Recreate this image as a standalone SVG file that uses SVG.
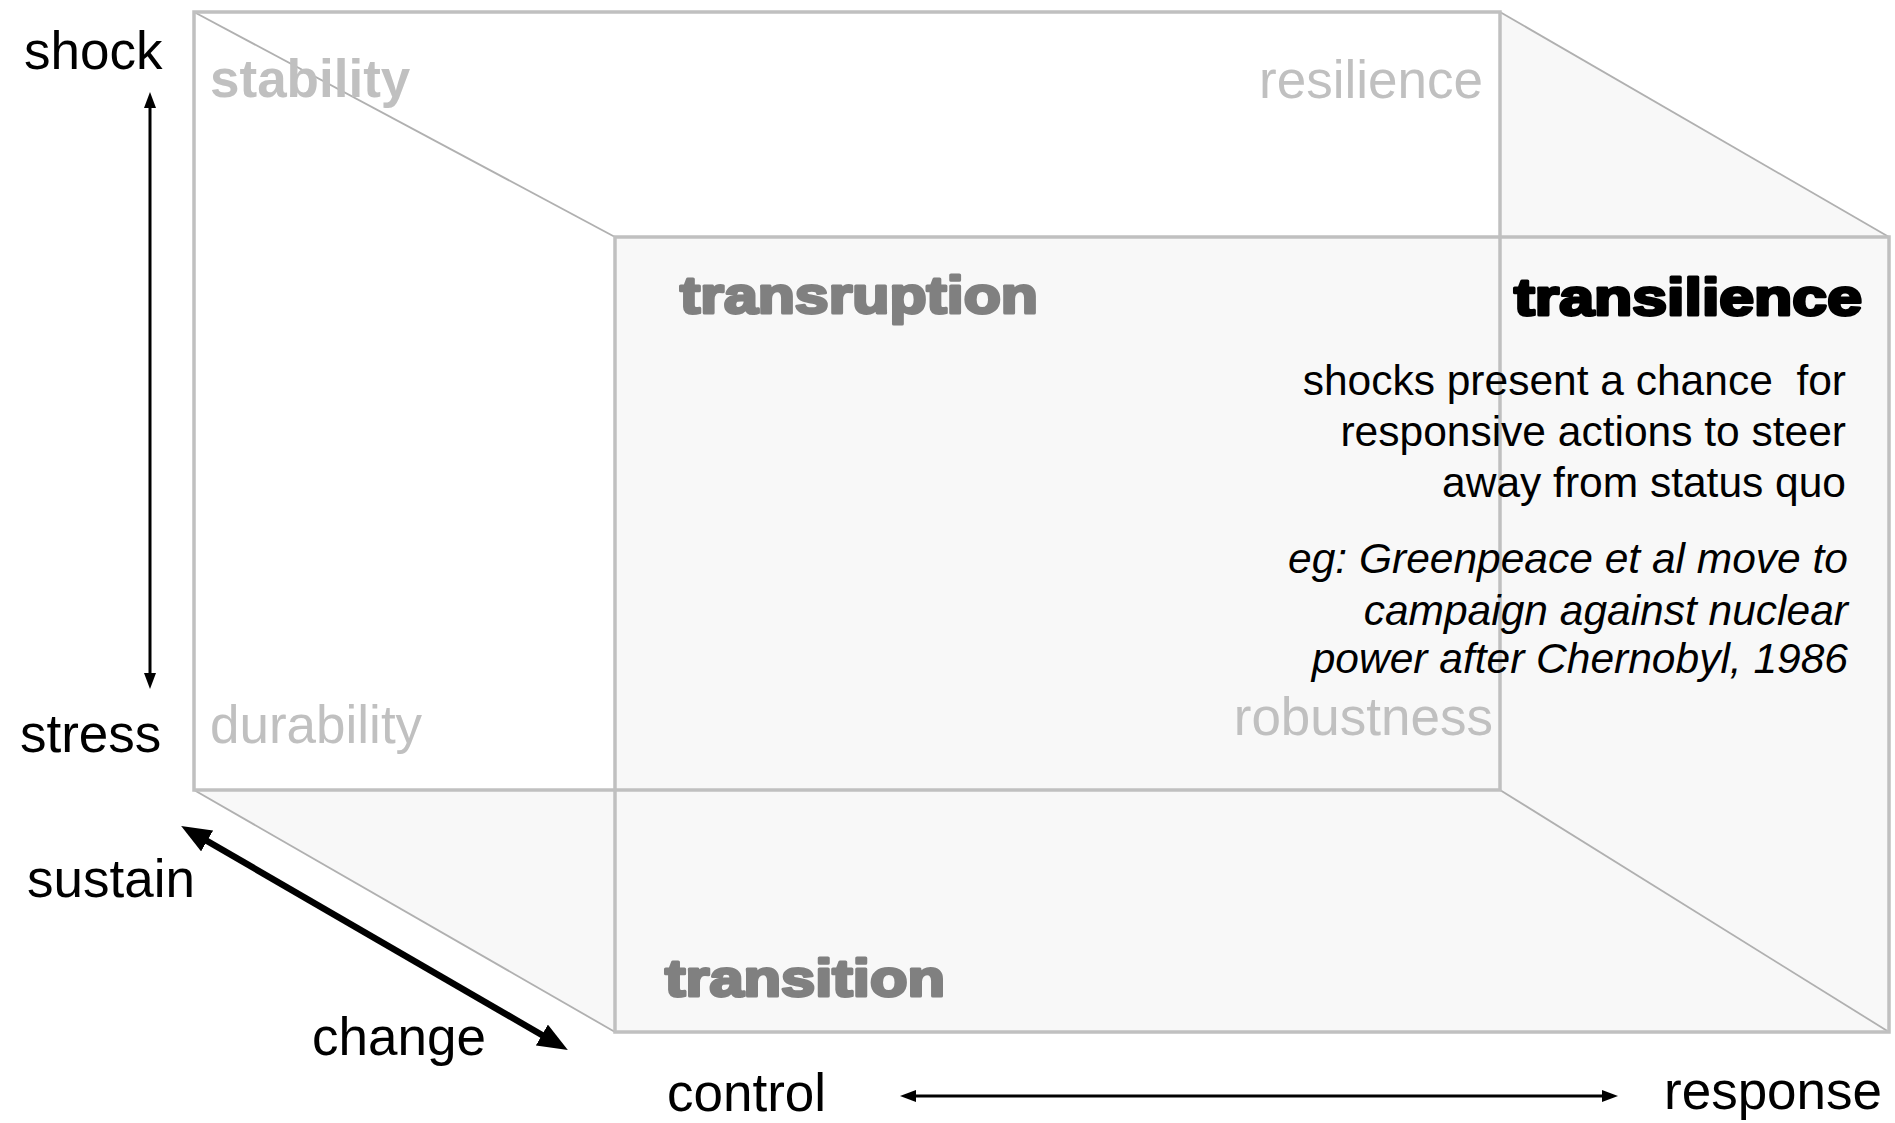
<svg xmlns="http://www.w3.org/2000/svg" width="1895" height="1123" viewBox="0 0 1895 1123">
<style>
.lbl{font-family:"Liberation Sans",Arial,sans-serif;font-size:53px;fill:#000}
.soft{font-family:"Liberation Sans",Arial,sans-serif;font-size:53px;fill:#c0c0c0}
.heavy{font-family:"Liberation Sans",Arial,sans-serif;font-size:52px;font-weight:bold;stroke-width:3;stroke-linejoin:round}
.body{font-family:"Liberation Sans",Arial,sans-serif;font-size:42.5px;fill:#000;text-anchor:end}
.ital{font-style:italic}
.edge{fill:none;stroke:#c0c0c0;stroke-width:3.5}
.diag{fill:none;stroke:#b0b0b0;stroke-width:1.8}
.face{fill:#f8f8f8;stroke:none}
.thin{stroke:#000;stroke-width:3;fill:none}
.thick{stroke:#000;stroke-width:6.5;fill:none}
</style>
<defs>
<marker id="ah" markerUnits="userSpaceOnUse" markerWidth="16" markerHeight="12" refX="8" refY="6" orient="auto-start-reverse" viewBox="0 0 16 12">
<path d="M0,0 L16,6 L0,12 z" fill="#000"/>
</marker>
<marker id="ahb" markerUnits="userSpaceOnUse" markerWidth="30" markerHeight="24" refX="14" refY="12" orient="auto-start-reverse" viewBox="0 0 30 24">
<path d="M0,0 L30,12 L0,24 z" fill="#000"/>
</marker>
</defs>
<rect width="1895" height="1123" fill="#fff"/>
<g id="cube">
<rect id="back-face" x="194" y="12" width="1306" height="778" fill="#fff"/>
<polygon id="right-face" class="face" points="1500,12 1889,237 1889,1032 1500,790"/>
<polygon id="bottom-face" class="face" points="194,790 1500,790 1889,1032 615,1032"/>
<rect id="front-face" class="face" x="615" y="237" width="1274" height="795"/>
<line class="diag" x1="194" y1="12" x2="615" y2="237"/>
<line class="diag" x1="1500" y1="12" x2="1889" y2="237"/>
<line class="diag" x1="1500" y1="790" x2="1889" y2="1032"/>
<line class="diag" x1="194" y1="790" x2="615" y2="1032"/>
<rect id="back-edge" class="edge" x="194" y="12" width="1306" height="778"/>
<rect id="front-edge" class="edge" x="615" y="237" width="1274" height="795"/>
</g>
<g id="corner-labels">
<text id="stability" class="soft" x="210" y="97" font-weight="bold">stability</text>
<text id="resilience" class="soft" x="1483" y="98" text-anchor="end">resilience</text>
<text id="durability" class="soft" x="210" y="743">durability</text>
<text id="robustness" class="soft" x="1493" y="735" text-anchor="end">robustness</text>
</g>
<g id="transruption"><text class="heavy" x="680" y="313" fill="#808080" stroke="#808080" textLength="358" lengthAdjust="spacingAndGlyphs">transruption</text></g>
<g id="transition"><text class="heavy" x="665" y="996" fill="#808080" stroke="#808080" textLength="280" lengthAdjust="spacingAndGlyphs">transition</text></g>
<g id="transilience">
<text class="heavy" x="1514" y="315" fill="#000" stroke="#000" textLength="348" lengthAdjust="spacingAndGlyphs">transilience</text>
<text class="body" x="1846" y="395" xml:space="preserve">shocks present a chance  for</text>
<text class="body" x="1846" y="446">responsive actions to steer</text>
<text class="body" x="1846" y="497">away from status quo</text>
<text class="body ital" x="1848" y="573">eg: Greenpeace et al move to</text>
<text class="body ital" x="1848" y="625">campaign against nuclear</text>
<text class="body ital" x="1848" y="673">power after Chernobyl, 1986</text>
</g>
<g id="axis-labels">
<text class="lbl" x="24" y="69">shock</text>
<text class="lbl" x="20" y="752">stress</text>
<text class="lbl" x="27" y="897">sustain</text>
<text class="lbl" x="312" y="1055">change</text>
<text class="lbl" x="667" y="1111">control</text>
<text class="lbl" x="1664" y="1109">response</text>
</g>
<g id="connectors">
<line class="thin" x1="150" y1="100" x2="150" y2="681" marker-start="url(#ah)" marker-end="url(#ah)"/>
<line class="thin" x1="908" y1="1096" x2="1610" y2="1096" marker-start="url(#ah)" marker-end="url(#ah)"/>
<line class="thick" x1="195" y1="834" x2="554" y2="1042" marker-start="url(#ahb)" marker-end="url(#ahb)"/>
</g>
</svg>
